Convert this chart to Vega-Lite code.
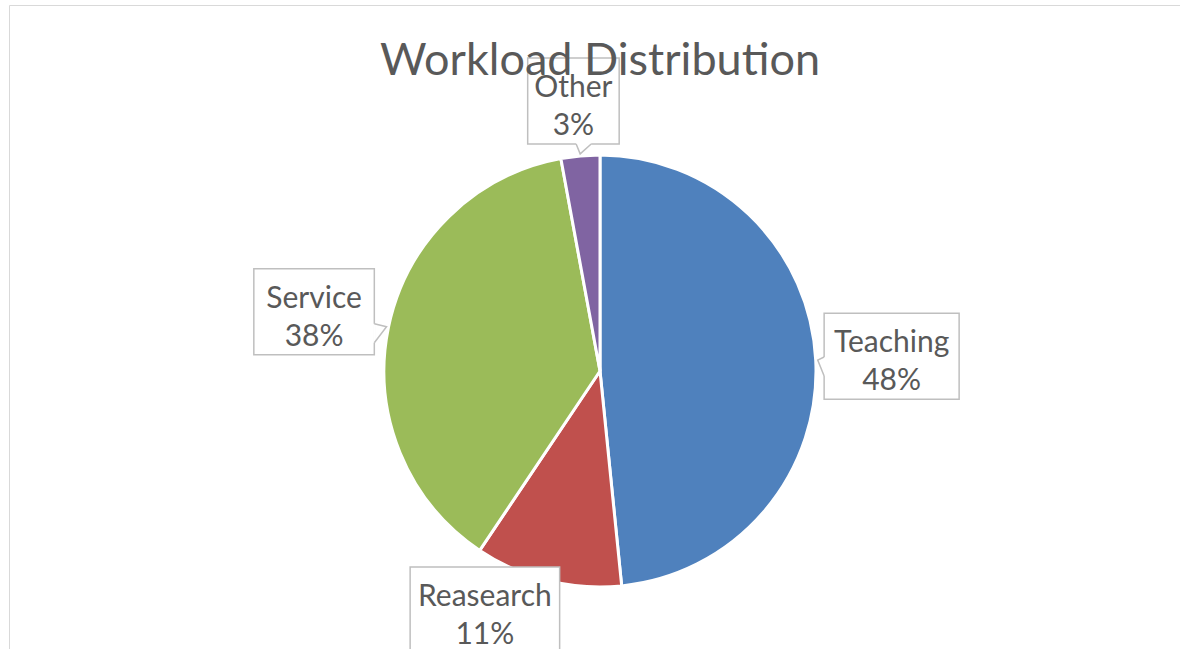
{
  "$schema": "https://vega.github.io/schema/vega-lite/v6.json",
  "width": 1182,
  "height": 732,
  "autosize": {"type": "none"},
  "padding": {"left": 9, "top": 5, "right": 0, "bottom": 0},
  "background": "white",
  "view": {"stroke": "#D9D9D9", "strokeWidth": 1},
  "title": {
    "text": "Workload Distribution",
    "font": "Lato",
    "fontSize": 45,
    "fontWeight": "normal",
    "color": "#595959",
    "anchor": "middle",
    "offset": -79
  },
  "data": {
    "values": [
      {"cat": "Teaching", "value": 48.4},
      {"cat": "Reasearch", "value": 11.0},
      {"cat": "Service", "value": 37.7},
      {"cat": "Other", "value": 2.9}
    ]
  },
  "transform": [
    {"window": [{"op": "row_number", "as": "ord"}, {"op": "sum", "field": "value", "as": "cum"}], "frame": [null, 0]},
    {"joinaggregate": [{"op": "sum", "field": "value", "as": "total"}]},
    {"calculate": "datum.value / datum.total", "as": "pct"},
    {"calculate": "2 * PI * (datum.cum - datum.value / 2) / datum.total", "as": "mid"},
    {"calculate": "datum.cat + '\\n' + format(datum.pct, '.0%')", "as": "label"},
    {"calculate": "292 * sin(datum.mid)", "as": "lx0"},
    {"calculate": "-292 * cos(datum.mid)", "as": "ly0"},
    {"calculate": "datum.ly0 > 239 ? 239 : (datum.ly0 < -270 ? -270 : datum.ly0)", "as": "ly"},
    {"calculate": "datum.ly0 > 239 ? datum.lx0 - 1.0 * (datum.ly0 - 239) : datum.lx0", "as": "lx"},
    {"calculate": "7.25 * length(datum.cat) + 9.5", "as": "hw"},
    {"calculate": "datum.lx - datum.hw", "as": "bx1"},
    {"calculate": "datum.lx + datum.hw", "as": "bx2"},
    {"calculate": "datum.ly - 43", "as": "by1"},
    {"calculate": "datum.ly + 43", "as": "by2"},
    {"calculate": "218 * sin(datum.mid)", "as": "tipx"},
    {"calculate": "-218 * cos(datum.mid)", "as": "tipy"},
    {"calculate": "(datum.tipx >= datum.bx1 && datum.tipx <= datum.bx2) ? (datum.tipy > datum.ly ? 'bottom' : 'top') : (datum.tipx > datum.lx ? 'right' : 'left')", "as": "side"},
    {"calculate": "datum.side == 'right' ? datum.bx2 : (datum.side == 'left' ? datum.bx1 : datum.tipx - 4)", "as": "p0x"},
    {"calculate": "datum.side == 'bottom' ? datum.by2 : (datum.side == 'top' ? datum.by1 : datum.tipy - 3)", "as": "p0y"},
    {"calculate": "datum.side == 'right' ? datum.bx2 : (datum.side == 'left' ? datum.bx1 : datum.tipx + 11)", "as": "p2x"},
    {"calculate": "datum.side == 'bottom' ? datum.by2 : (datum.side == 'top' ? datum.by1 : datum.tipy + 16)", "as": "p2y"},
    {"calculate": "datum.tipx > datum.bx1 && datum.tipx < datum.bx2 && datum.tipy > datum.by1 && datum.tipy < datum.by2", "as": "tipInside"}
  ],
  "layer": [
    {
      "mark": {"type": "arc", "outerRadius": 216, "stroke": "white", "strokeWidth": 3},
      "encoding": {
        "theta": {"field": "value", "type": "quantitative", "stack": true},
        "order": {"field": "ord", "type": "quantitative"},
        "color": {
          "field": "cat",
          "type": "nominal",
          "scale": {"domain": ["Teaching", "Reasearch", "Service", "Other"], "range": ["#4F81BD", "#C0504D", "#9BBB59", "#8064A2"]},
          "legend": null
        }
      }
    },
    {
      "mark": {"type": "rect", "fill": "white", "stroke": "#BFBFBF", "strokeWidth": 1.5},
      "encoding": {
        "x": {"field": "bx1", "type": "quantitative", "scale": {"domain": [-591, 591], "nice": false, "zero": false}, "axis": null},
        "x2": {"field": "bx2"},
        "y": {"field": "by1", "type": "quantitative", "scale": {"domain": [-366, 366], "nice": false, "zero": false, "reverse": true}, "axis": null},
        "y2": {"field": "by2"}
      }
    },
    {
      "transform": [{"filter": "!datum.tipInside"}],
      "mark": {"type": "rule", "stroke": "white", "strokeWidth": 2.5},
      "encoding": {
        "x": {"field": "p0x", "type": "quantitative"},
        "y": {"field": "p0y", "type": "quantitative"},
        "x2": {"field": "p2x"},
        "y2": {"field": "p2y"}
      }
    },
    {
      "transform": [
        {"filter": "!datum.tipInside"},
        {"calculate": "[0, 1, 2]", "as": "ks"},
        {"flatten": ["ks"], "as": ["k"]},
        {"calculate": "datum.k == 0 ? datum.p0x : (datum.k == 1 ? datum.tipx : datum.p2x)", "as": "vx"},
        {"calculate": "datum.k == 0 ? datum.p0y : (datum.k == 1 ? datum.tipy : datum.p2y)", "as": "vy"}
      ],
      "mark": {"type": "line", "stroke": "#BFBFBF", "strokeWidth": 1.5, "strokeJoin": "miter"},
      "encoding": {
        "x": {"field": "vx", "type": "quantitative"},
        "y": {"field": "vy", "type": "quantitative"},
        "detail": {"field": "cat"},
        "order": {"field": "k", "type": "quantitative"}
      }
    },
    {
      "mark": {"type": "text", "lineBreak": "\n", "font": "Lato", "fontSize": 30, "lineHeight": 38, "dy": -13, "color": "#595959", "align": "center", "baseline": "middle"},
      "encoding": {
        "x": {"field": "lx", "type": "quantitative"},
        "y": {"field": "ly", "type": "quantitative"},
        "text": {"field": "label"}
      }
    }
  ]
}
